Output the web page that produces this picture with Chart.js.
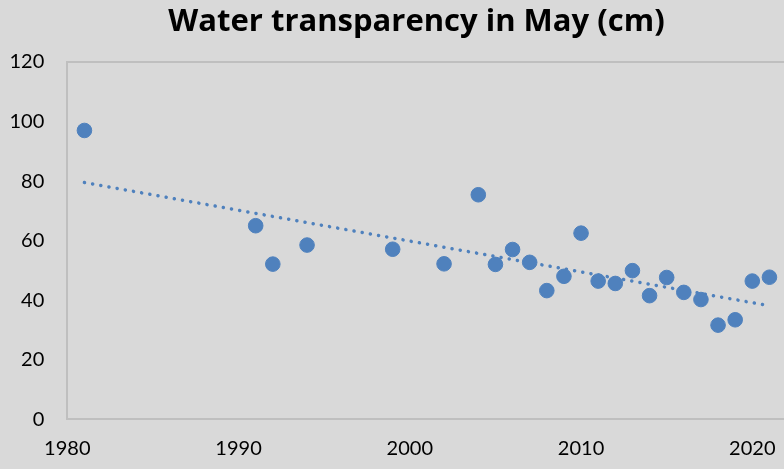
<!DOCTYPE html>
<html>
<head>
<meta charset="utf-8">
<script src="https://cdn.jsdelivr.net/npm/chart.js@4.4.0/dist/chart.umd.min.js"></script>
<style>
  html, body { margin: 0; padding: 0; overflow: hidden; background: #d9d9d9; }
  #wrap { width: 784px; height: 469px; overflow: hidden; }
</style>
</head>
<body>
<div id="wrap"><canvas id="chart" width="860" height="469"></canvas></div>
<script>
// Observed years and May water transparency (cm)
const years = [1981, 1991, 1992, 1994, 1999, 2002, 2004, 2005, 2006, 2007, 2008, 2009, 2010,
               2011, 2012, 2013, 2014, 2015, 2016, 2017, 2018, 2019, 2020, 2021];
const transparency = [97.0, 65.0, 52.1, 58.5, 57.1, 52.2, 75.4, 52.0, 57.0, 52.7, 43.2, 48.0, 62.5,
                      46.4, 45.6, 49.9, 41.5, 47.6, 42.6, 40.2, 31.6, 33.4, 46.4, 47.7];

// Linear trend line ends
const trendYears = [1981, 2021];
const trendValues = [79.5, 38.1];

const yTicks = [0, 20, 40, 60, 80, 100, 120];

const blue = '#4f81bd';
const axisGray = '#bfbfbf';

const toPoints = (xs, ys) => xs.map((x, i) => ({ x: x, y: ys[i] }));

Chart.defaults.font.family = 'Lato, "Open Sans", sans-serif';
Chart.defaults.color = '#000';

new Chart(document.getElementById('chart'), {
    type: 'scatter',
    data: {
        datasets: [
            {
                label: 'Water transparency',
                data: toPoints(years, transparency),
                backgroundColor: blue,
                borderColor: blue,
                pointRadius: 7.3,
                pointHoverRadius: 7.3,
                order: 1
            },
            {
                label: 'Trend',
                type: 'line',
                data: toPoints(trendYears, trendValues),
                borderColor: blue,
                borderWidth: 3.5,
                borderCapStyle: 'round',
                borderDash: [0.1, 8.2],
                pointRadius: 0,
                fill: false,
                order: 2
            }
        ]
    },
    options: {
        responsive: false,
        animation: false,
        devicePixelRatio: 1,
        // tick padding is counted twice in the axis size, hence the negative values
        layout: { padding: { left: -13.5, right: 13.5, top: 0, bottom: -9 } },
        plugins: {
            legend: { display: false },
            tooltip: { enabled: false },
            title: {
                display: true,
                text: 'Water transparency in May (cm)',
                font: { family: '"Open Sans", Lato, sans-serif', size: 31, weight: 'bold' },
                color: '#000',
                padding: { top: 4, bottom: 20.8 }
            }
        },
        scales: {
            x: {
                type: 'linear',
                min: 1980,
                max: 2025.5,
                border: { display: true, color: axisGray, width: 2 },
                grid: { display: false, drawTicks: false },
                ticks: {
                    stepSize: 10,
                    includeBounds: false,
                    padding: 17.4,
                    font: { size: 20 },
                    callback: v => String(v)
                }
            },
            y: {
                min: 0,
                max: 120,
                border: { display: true, color: axisGray, width: 2 },
                grid: {
                    drawTicks: false,
                    lineWidth: 2,
                    color: ctx => (ctx.tick && ctx.tick.value === 120 ? axisGray : 'rgba(0,0,0,0)')
                },
                afterBuildTicks: axis => { axis.ticks = yTicks.map(v => ({ value: v })); },
                ticks: {
                    padding: 23,
                    font: { size: 20 }
                }
            }
        }
    }
});
</script>
</body>
</html>
